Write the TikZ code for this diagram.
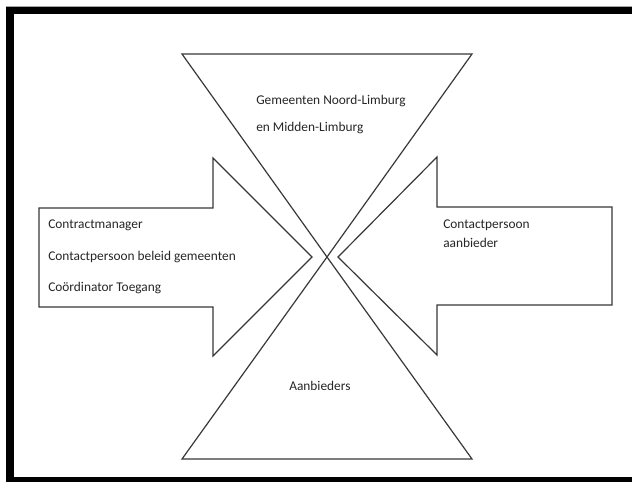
\documentclass[tikz,border=0pt]{standalone}
\usepackage{fontspec}
\setmainfont{Carlito}
\begin{document}
\begin{tikzpicture}[x=0.025cm,y=-0.025cm,
  shapeline/.style={draw=black!78,line width=0.85pt,line join=miter,fill=white},
  lbl/.style={anchor=base west,inner sep=0pt,font=\fontsize{9.5}{11}\selectfont,text=black!85}]
\useasboundingbox (0,0) rectangle (632,481);
\begin{scope}
\clip (0,0) rectangle (632,481);
\fill[white] (0,0) rectangle (632,481);
\draw[black!35,line width=0.5pt] (6,6.3) -- (640,6.3);
\fill[black] (6,7) rectangle (640,14);
\fill[black] (6,7) rectangle (14,490);
\fill[black] (6,477) rectangle (640,490);
\end{scope}
% left arrow
\draw[shapeline] (39,208) -- (213,208) -- (213,158) -- (312,257) -- (213,356) -- (213,307) -- (39,307) -- cycle;
% right arrow
\draw[shapeline] (612,207) -- (437,207) -- (437,157) -- (338,257) -- (437,355) -- (437,305) -- (612,305) -- cycle;
% top inverted triangle
\draw[shapeline,fill=none] (182,54) -- (472,54) -- (327,257) -- cycle;
% bottom triangle
\draw[shapeline,fill=none] (182,459) -- (472,459) -- (327,257) -- cycle;
% labels
\node[lbl] (g1) at (256,104) {Gemeenten Noord-Limburg};
\node[lbl] (g2) at (256,131) {en Midden-Limburg};
\node[lbl] (l1) at (48,228) {Contractmanager};
\node[lbl] (l2) at (48,260) {Contactpersoon beleid gemeenten};
\node[lbl] (l3) at (48,291) {Coördinator Toegang};
\node[lbl] (r1) at (443,228) {Contactpersoon};
\node[lbl] (r2) at (443,247.5) {aanbieder};
\node[lbl] (b1) at (289,390.5) {Aanbieders};
\end{tikzpicture}
\end{document}
